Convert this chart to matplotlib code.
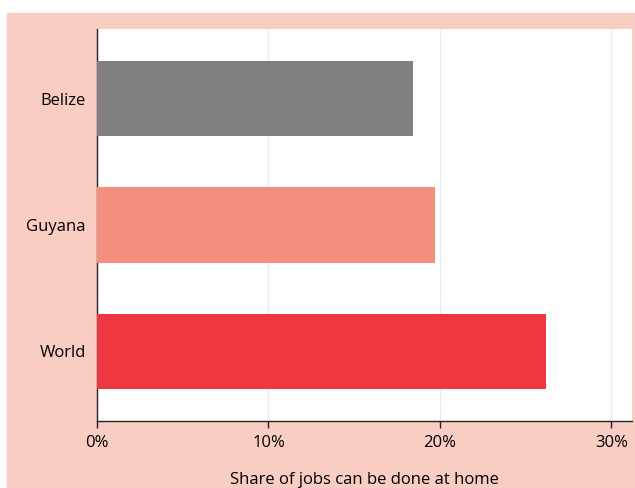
import matplotlib
matplotlib.use("Agg")
import matplotlib.pyplot as plt
from matplotlib.patches import Rectangle
from matplotlib.ticker import FuncFormatter

# ----------------------- data ---------------------------
countries = ["Belize", "Guyana", "World"]
shares    = [18.4, 19.7, 26.2]          # % of jobs that can be done at home
colors    = ["#808083", "#f48f7f", "#ee3640"]
xticks    = [0, 10, 20, 30]
# --------------------------------------------------------

BG = "#f9cdc1"
plt.rcParams["font.family"] = ["Open Sans", "DejaVu Sans"]

fig = plt.figure(figsize=(6.35, 4.88), dpi=100)
fig.patch.set_facecolor("white")
fig.patches.append(Rectangle((7 / 635, 0), 1, 1 - 13 / 488,
                             transform=fig.transFigure, color=BG, zorder=-10))

ax = fig.add_axes([97 / 635, 67 / 488, 535 / 635, 392 / 488])
ax.set_facecolor("white")

ypos = range(len(countries))
ax.barh(ypos, shares, height=0.6, color=colors, zorder=3)
ax.set_yticks(list(ypos))
ax.set_yticklabels(countries, fontsize=12)
ax.set_ylim(2.55, -0.55)
ax.set_xlim(0, 31.2)
ax.set_xticks(xticks)
ax.xaxis.set_major_formatter(FuncFormatter(lambda v, _: f"{v:.0f}%"))
ax.tick_params(axis="x", labelsize=12, length=5, width=1, color="#222222", pad=5)
ax.tick_params(axis="y", length=0, pad=8)
ax.grid(axis="x", color="#e6eef0", linewidth=1, zorder=0)

for s in ["top", "right"]:
    ax.spines[s].set_visible(False)
for s in ["left", "bottom"]:
    ax.spines[s].set_color("#222222")
    ax.spines[s].set_linewidth(1)

ax.set_xlabel("Share of jobs can be done at home", fontsize=12, labelpad=15)

fig.savefig("out.png", dpi=100, facecolor=fig.get_facecolor())
